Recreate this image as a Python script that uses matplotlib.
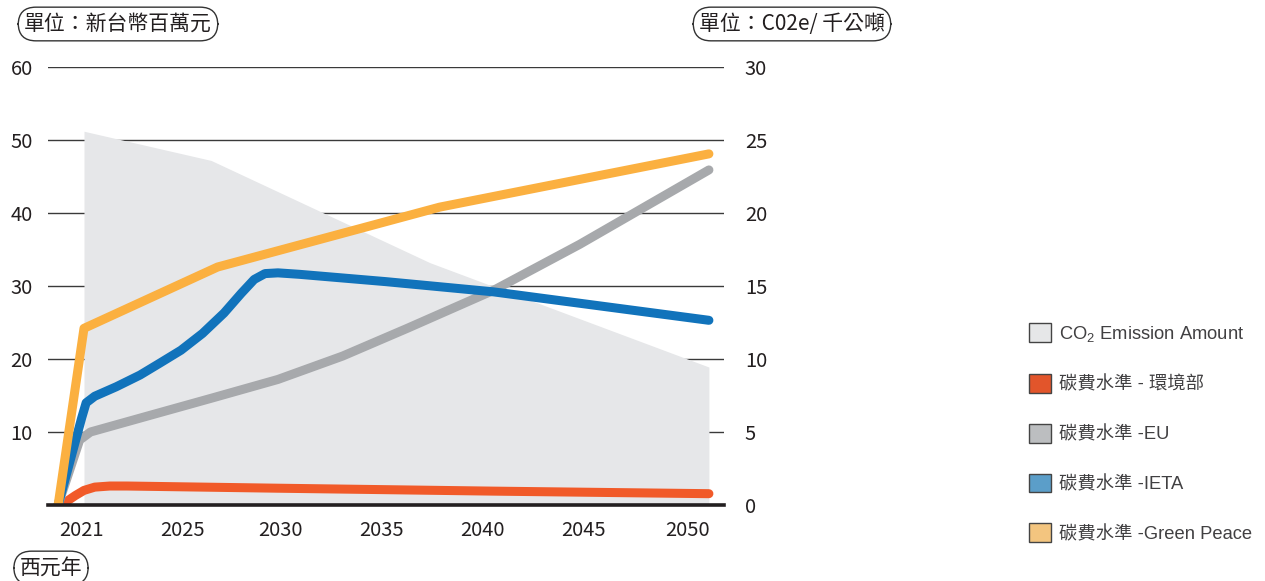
import matplotlib
matplotlib.use('Agg')
import matplotlib.pyplot as plt
from matplotlib.patches import Patch

plt.rcParams['font.family'] = ['Noto Sans CJK TC', 'DejaVu Sans']
plt.rcParams['mathtext.fontset'] = 'custom'
plt.rcParams['mathtext.rm'] = 'Liberation Sans'
plt.rcParams['mathtext.it'] = 'Liberation Sans:italic'

# x tick labels and where they sit on the year axis
tick_labels = ['2021', '2025', '2030', '2035', '2040', '2045', '2050']
tick_pos = [2020.9, 2025.55, 2030.1, 2034.8, 2039.5, 2044.2, 2049.0]

# CO2 emission (right axis, 千公噸)
co2_years = [2021, 2026.9, 2037.05, 2050]
co2_vals = [25.6, 23.6, 16.6, 9.45]

# carbon fee (left axis, 新台幣百萬元)
moe_years = [2019.8, 2020.2, 2020.6, 2021.0, 2021.5, 2022.2, 2023, 2030, 2040, 2050]
moe_vals = [0, 0.5, 1.3, 2.0, 2.45, 2.6, 2.6, 2.3, 1.9, 1.55]

eu_years = [2019.8, 2020.8, 2021.3, 2023.6, 2027, 2030, 2033, 2036, 2040, 2044, 2050]
eu_vals = [0, 8.9, 10.0, 11.9, 14.7, 17.2, 20.4, 24.2, 29.4, 35.7, 45.9]

ieta_years = [2019.8, 2020.9, 2021.1, 2021.5, 2022.5, 2023.6, 2024.5, 2025.5, 2026.5, 2027.5,
              2028.3, 2028.9, 2029.4, 2030, 2031, 2035, 2040, 2050]
ieta_vals = [0, 12.0, 14.0, 14.9, 16.2, 17.8, 19.4, 21.2, 23.5, 26.3,
             29.0, 30.9, 31.7, 31.8, 31.6, 30.6, 29.2, 25.3]

gp_years = [2019.8, 2021, 2027.2, 2037.5, 2050]
gp_vals = [0, 24.2, 32.6, 40.8, 48.1]

fig = plt.figure(figsize=(12.65, 5.81), dpi=100)
ax = fig.add_axes([48/1265, 76/581, 676/1265, 438/581])  # CO2 axis (right ticks)
ax2 = ax.twinx()  # fee axis (left ticks), drawn on top

# area
ax.fill_between(co2_years, co2_vals, 0, color='#e6e7e9', lw=0, zorder=1)
ax.set_ylim(0, 30)
ax.set_yticks(range(0, 31, 5))
ax.set_axisbelow(True)
ax.grid(axis='y', color='#3a3a3a', lw=1)
ax.yaxis.tick_right()
ax.yaxis.set_label_position('right')

lw = 6.5
kw = dict(lw=lw, solid_capstyle='round', solid_joinstyle='round')
ax2.plot(moe_years, moe_vals, color='#f15a29', **kw)
ax2.plot(eu_years, eu_vals, color='#a7a9ac', **kw)
ax2.plot(ieta_years, ieta_vals, color='#1173bb', **kw)
ax2.plot(gp_years, gp_vals, color='#fbb040', **kw)
ax2.set_ylim(0, 60)
ax2.set_yticks(range(10, 61, 10))
ax2.yaxis.tick_left()

ax.set_xlim(2019.33, 2050.7)
ax.set_xticks(tick_pos)
ax.set_xticklabels(tick_labels)

for a in (ax, ax2):
    for s in ('top', 'left', 'right', 'bottom'):
        a.spines[s].set_visible(False)
    a.tick_params(length=0, labelsize=14.5, colors='#231f20')
    for t in a.get_xticklabels() + a.get_yticklabels():
        t.set_fontweight('medium')
ax2.spines['bottom'].set_visible(True)
ax2.spines['bottom'].set_linewidth(2.6)
ax2.spines['bottom'].set_color('#231f20')
ax2.spines['bottom'].set_zorder(5)
ax.tick_params(axis='x', pad=11)
ax2.tick_params(axis='y', pad=11)
ax.tick_params(axis='y', pad=15)

box = dict(boxstyle='round,pad=0.28,rounding_size=0.85', fc='white', ec='#333333', lw=1)
fig.text(118/1265, 1 - 24/581, '單位：新台幣百萬元', ha='center', va='center', fontsize=15, color='#231f20', bbox=box)
fig.text(792/1265, 1 - 24/581, '單位：C02e/ 千公噸', ha='center', va='center', fontsize=15, color='#231f20', bbox=box)
fig.text(51/1265, 1 - 568/581, '西元年', ha='center', va='center', fontsize=15, color='#231f20', bbox=box)

handles = [
    Patch(fc='#e6e7e8', ec='#444444', lw=1),
    Patch(fc='#e2552b', ec='#444444', lw=1),
    Patch(fc='#bcbec0', ec='#444444', lw=1),
    Patch(fc='#5b9ec9', ec='#444444', lw=1),
    Patch(fc='#f3c57f', ec='#444444', lw=1),
]
labels = ['CO$_2$ Emission Amount', '碳費水準 - 環境部', '碳費水準 -EU', '碳費水準 -IETA', '碳費水準 -Green Peace']
fig.legend(handles, labels, loc='center left', bbox_to_anchor=(1012/1265, 1 - 433/581),
           frameon=False, handlelength=1.2, handleheight=1.2,
           labelspacing=1.65, handletextpad=0.45, labelcolor='#414042',
           prop={'family': ['Liberation Sans', 'Noto Sans CJK TC'], 'size': 13.2})

fig.savefig('out.png', dpi=100)
